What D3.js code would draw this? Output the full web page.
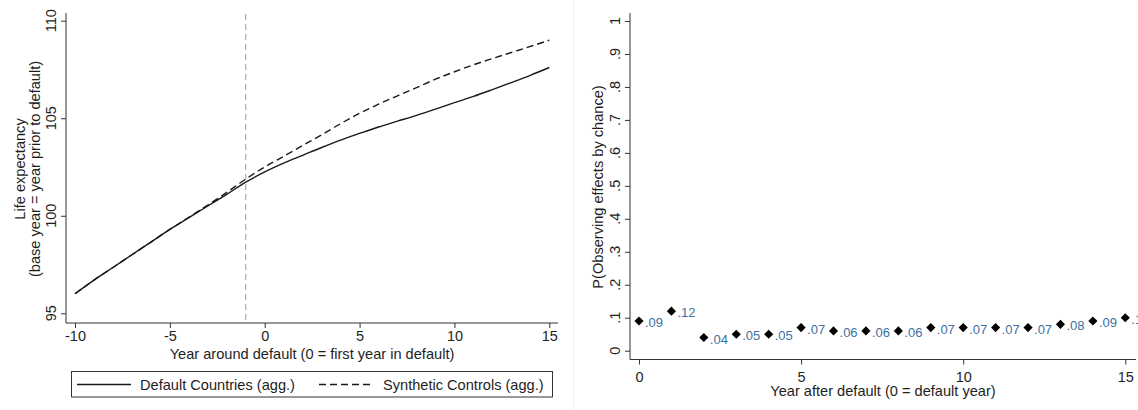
<!DOCTYPE html>
<html><head><meta charset="utf-8">
<script src="https://cdn.jsdelivr.net/npm/d3@7"></script>
<style>
html,body{margin:0;padding:0;background:#fff;}
svg{display:block;font-family:"Liberation Sans",Arial,sans-serif;}
.axis path,.axis line{stroke:#333;stroke-width:1;}
.axis text{fill:#1e1e1e;font-size:14.5px;}
</style></head><body>
<svg id="c" width="1138" height="410"></svg>
<script>
// ---- Left panel data ----
const yearsLeft = [-10,-9,-8,-7,-6,-5,-4,-3,-2,-1,0,1,2,3,4,5,6,7,8,9,10,11,12,13,14,15];
const defaultCountries = [96.0,96.7,97.35,98.0,98.65,99.3,99.9,100.5,101.1,101.72,102.25,102.7,103.1,103.5,103.88,104.22,104.55,104.85,105.15,105.47,105.8,106.12,106.47,106.83,107.2,107.6];
const syntheticControls = [96.0,96.7,97.35,98.0,98.65,99.3,99.92,100.55,101.2,101.88,102.5,103.05,103.6,104.15,104.72,105.25,105.72,106.15,106.57,107.0,107.38,107.74,108.06,108.37,108.68,109.0];
const defaultYear = [-1];
const xTicksLeft = [-10,-5,0,5,10,15];
const yTicksLeft = [95,100,105,110];
const seriesNames = ["Default Countries (agg.)","Synthetic Controls (agg.)"];
const xTitleLeft = "Year around default (0 = first year in default)";
const yTitleLeft = ["Life expectancy","(base year = year prior to default)"];

// ---- Right panel data ----
const yearsRight = [0,1,2,3,4,5,6,7,8,9,10,11,12,13,14,15];
const pValues = [0.09,0.12,0.04,0.05,0.05,0.07,0.06,0.06,0.06,0.07,0.07,0.07,0.07,0.08,0.09,0.1];
const pLabels = [".09",".12",".04",".05",".05",".07",".06",".06",".06",".07",".07",".07",".07",".08",".09",".1"];
const xTicksRight = [0,5,10,15];
const yTicksRight = [0,0.1,0.2,0.3,0.4,0.5,0.6,0.7,0.8,0.9,1];
const yTickLabelsRight = ["0",".1",".2",".3",".4",".5",".6",".7",".8",".9","1"];
const xTitleRight = "Year after default (0 = default year)";
const yTitleRight = "P(Observing effects by chance)";

const svg = d3.select("#c");
const ink = "#1a1a1a";
const titleSize = "14.6px";

// faint panel separator
svg.append("line").attr("x1",573.5).attr("x2",573.5).attr("y1",0).attr("y2",410)
  .attr("stroke","#f0f0f0").attr("stroke-width",1);

// ===== LEFT =====
const xL = d3.scaleLinear().domain([-10,15]).range([75,549.3]);
const yL = d3.scaleLinear().domain([95,110]).range([313.3,20.7]);
const left = svg.append("g");

left.append("line").attr("x1",66).attr("x2",66).attr("y1",13).attr("y2",323).attr("stroke","#333");
left.append("line").attr("x1",66).attr("x2",558).attr("y1",323).attr("y2",323).attr("stroke","#333");

const axYL = left.append("g").attr("class","axis").attr("transform","translate(66,0)")
  .call(d3.axisLeft(yL).tickValues(yTicksLeft).tickFormat(d=>String(d)).tickSize(5).tickSizeOuter(0));
axYL.select(".domain").remove();
axYL.selectAll(".tick").attr("transform",null);
axYL.selectAll(".tick line").attr("y1",d=>yL(d)+0.5).attr("y2",d=>yL(d)+0.5);
axYL.selectAll("text").attr("x",-10).attr("y",d=>yL(d)).attr("dy",0).attr("text-anchor","middle")
  .attr("transform",d=>`rotate(-90,-10,${yL(d)})`);

const axXL = left.append("g").attr("class","axis").attr("transform","translate(0,323)")
  .call(d3.axisBottom(xL).tickValues(xTicksLeft).tickFormat(d=>String(d)).tickSize(5).tickSizeOuter(0).tickPadding(3));
axXL.select(".domain").remove();

left.selectAll(".vref").data(defaultYear).enter().append("line")
  .attr("x1",d=>xL(d)).attr("x2",d=>xL(d)).attr("y1",14).attr("y2",322)
  .attr("stroke","#9a9a9a").attr("stroke-width",1).attr("stroke-dasharray","6,4");

const lineL = (vals)=>d3.line().curve(d3.curveMonotoneX).x((d,i)=>xL(yearsLeft[i])).y(d=>yL(d))(vals);
left.append("path").attr("d",lineL(syntheticControls)).attr("fill","none")
  .attr("stroke",ink).attr("stroke-width",1.4).attr("stroke-dasharray","7,4");
left.append("path").attr("d",lineL(defaultCountries)).attr("fill","none")
  .attr("stroke",ink).attr("stroke-width",1.4);

left.append("text").attr("x",312).attr("y",359).attr("text-anchor","middle")
  .attr("font-size",titleSize).attr("fill","#1e1e1e").text(xTitleLeft);
left.append("text").attr("transform","translate(25,169) rotate(-90)").attr("text-anchor","middle")
  .attr("font-size",titleSize).attr("fill","#1e1e1e").text(yTitleLeft[0]);
left.append("text").attr("transform","translate(40,169) rotate(-90)").attr("text-anchor","middle")
  .attr("font-size",titleSize).attr("fill","#1e1e1e").text(yTitleLeft[1]);

// legend
const lg = left.append("g");
lg.append("rect").attr("x",71.5).attr("y",371.5).attr("width",481).attr("height",25.5)
  .attr("fill","#fff").attr("stroke","#333").attr("stroke-width",1);
lg.append("line").attr("x1",77).attr("x2",131).attr("y1",384.5).attr("y2",384.5).attr("stroke",ink).attr("stroke-width",1.3);
lg.append("text").attr("x",140).attr("y",389.5).attr("font-size",titleSize).attr("fill","#1e1e1e").text(seriesNames[0]);
lg.append("line").attr("x1",319).attr("x2",374).attr("y1",384.5).attr("y2",384.5).attr("stroke",ink).attr("stroke-width",1.3).attr("stroke-dasharray","7,4");
lg.append("text").attr("x",383).attr("y",389.5).attr("font-size",titleSize).attr("fill","#1e1e1e").text(seriesNames[1]);

// ===== RIGHT =====
const xR = d3.scaleLinear().domain([0,15]).range([639,1125.3]);
const yR = d3.scaleLinear().domain([0,1]).range([350.7,21]);
const right = svg.append("g");
right.append("line").attr("x1",630).attr("x2",630).attr("y1",13).attr("y2",359.5).attr("stroke","#333");
right.append("line").attr("x1",630).attr("x2",1136).attr("y1",359.5).attr("y2",359.5).attr("stroke","#333");

const axYR = right.append("g").attr("class","axis").attr("transform","translate(630,0)")
  .call(d3.axisLeft(yR).tickValues(yTicksRight).tickFormat((d,i)=>yTickLabelsRight[i]).tickSize(5).tickSizeOuter(0));
axYR.select(".domain").remove();
axYR.selectAll(".tick").attr("transform",null);
axYR.selectAll(".tick line").attr("y1",d=>yR(d)+0.5).attr("y2",d=>yR(d)+0.5);
axYR.selectAll("text").attr("x",-10).attr("y",d=>yR(d)).attr("dy",0).attr("text-anchor","middle")
  .attr("transform",d=>`rotate(-90,-10,${yR(d)})`);

const axXR = right.append("g").attr("class","axis").attr("transform","translate(0,359.5)")
  .call(d3.axisBottom(xR).tickValues(xTicksRight).tickFormat(d=>String(d)).tickSize(5).tickSizeOuter(0).tickPadding(7));
axXR.select(".domain").remove();

const pts = right.append("g");
pts.selectAll("path").data(pValues).enter().append("path")
  .attr("d",d3.symbol(d3.symbolSquare,42)())
  .attr("transform",(d,i)=>`translate(${xR(yearsRight[i])},${yR(d)}) rotate(45)`)
  .attr("fill","#000");
pts.selectAll("text").data(pValues).enter().append("text")
  .attr("x",(d,i)=>xR(yearsRight[i])+6).attr("y",d=>yR(d)+6)
  .attr("font-size","13px").attr("fill","#40709e").text((d,i)=>pLabels[i]);

right.append("text").attr("x",883).attr("y",396).attr("text-anchor","middle")
  .attr("font-size",titleSize).attr("fill","#1e1e1e").text(xTitleRight);
right.append("text").attr("transform","translate(603,187) rotate(-90)").attr("text-anchor","middle")
  .attr("font-size",titleSize).attr("fill","#1e1e1e").text(yTitleRight);
</script></body></html>
